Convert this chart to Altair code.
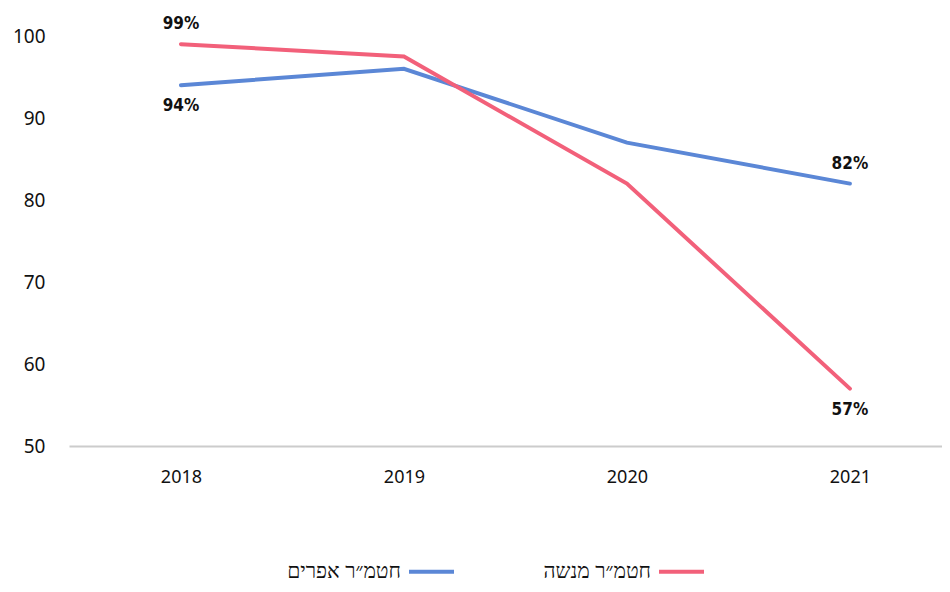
import altair as alt
import pandas as pd

years = [2018, 2019, 2020, 2021]
series_names = ["חטמ״ר אפרים", "חטמ״ר מנשה"]
efraim = [94, 96, 87, 82]
menashe = [99, 97.5, 82, 57]
label_years = [2018, 2018, 2021, 2021]
label_values = [94, 99, 82, 57]
label_text = ["94%", "99%", "82%", "57%"]
label_side = ["below", "above", "above", "below"]

rows = []
for y, v in zip(years, efraim):
    rows.append({"year": y, "series": series_names[0], "value": v})
for y, v in zip(years, menashe):
    rows.append({"year": y, "series": series_names[1], "value": v})
df = pd.DataFrame(rows)

ldf = pd.DataFrame({"year": label_years, "value": label_values,
                    "text": label_text, "side": label_side})

colors = ["#5b87d6", "#f2607a"]

x = alt.X("year:Q", scale=alt.Scale(domain=[2017.498, 2021.413], nice=False, zero=False),
          axis=alt.Axis(title=None, values=years, format="d", labelAngle=0, ticks=False,
                        grid=False, domainColor="#cccccc",
                        domainWidth=2, labelPadding=22, labelFontSize=18,
                        labelFont="Noto Sans", labelColor="#111111"))
y = alt.Y("value:Q", scale=alt.Scale(domain=[50, 100], nice=False, zero=False),
          axis=alt.Axis(title=None, values=[50, 60, 70, 80, 90, 100], grid=False, ticks=False,
                        domain=False, labelPadding=24, labelFontSize=19,
                        labelFont="Noto Sans", labelColor="#111111"))

lines = alt.Chart(df).mark_line(strokeWidth=4, strokeCap="round").encode(
    x=x, y=y,
    color=alt.Color("series:N", scale=alt.Scale(domain=series_names, range=colors),
                    legend=alt.Legend(title=None, orient="none", direction="horizontal",
                                      legendX=338, legendY=511,
                                      symbolType="stroke", symbolSize=2025,
                                      symbolStrokeWidth=4, labelAlign="right",
                                      labelOffset=alt.ExprRef("-55"),
                                      columnPadding=81,
                                      labelFontSize=21, labelFont="Noto Sans",
                                      labelColor="#111111")),
)

above = alt.Chart(ldf).transform_filter(alt.datum.side == "above").mark_text(
    fontSize=17, fontWeight="bold", font="DejaVu Sans Condensed", color="#111111", dy=-20
).encode(x=alt.X("year:Q"), y=alt.Y("value:Q"), text="text:N")

below = alt.Chart(ldf).transform_filter(alt.datum.side == "below").mark_text(
    fontSize=17, fontWeight="bold", font="DejaVu Sans Condensed", color="#111111", dy=21
).encode(x=alt.X("year:Q"), y=alt.Y("value:Q"), text="text:N")

chart = alt.layer(lines, above, below).properties(
    width=873, height=410,
    padding={"left": 61, "top": 28, "right": 0, "bottom": 138},
    autosize=alt.AutoSizeParams(type="none"),
).configure_view(stroke=None)

chart.save("out.html", embed_options={"renderer": "svg", "actions": False})
